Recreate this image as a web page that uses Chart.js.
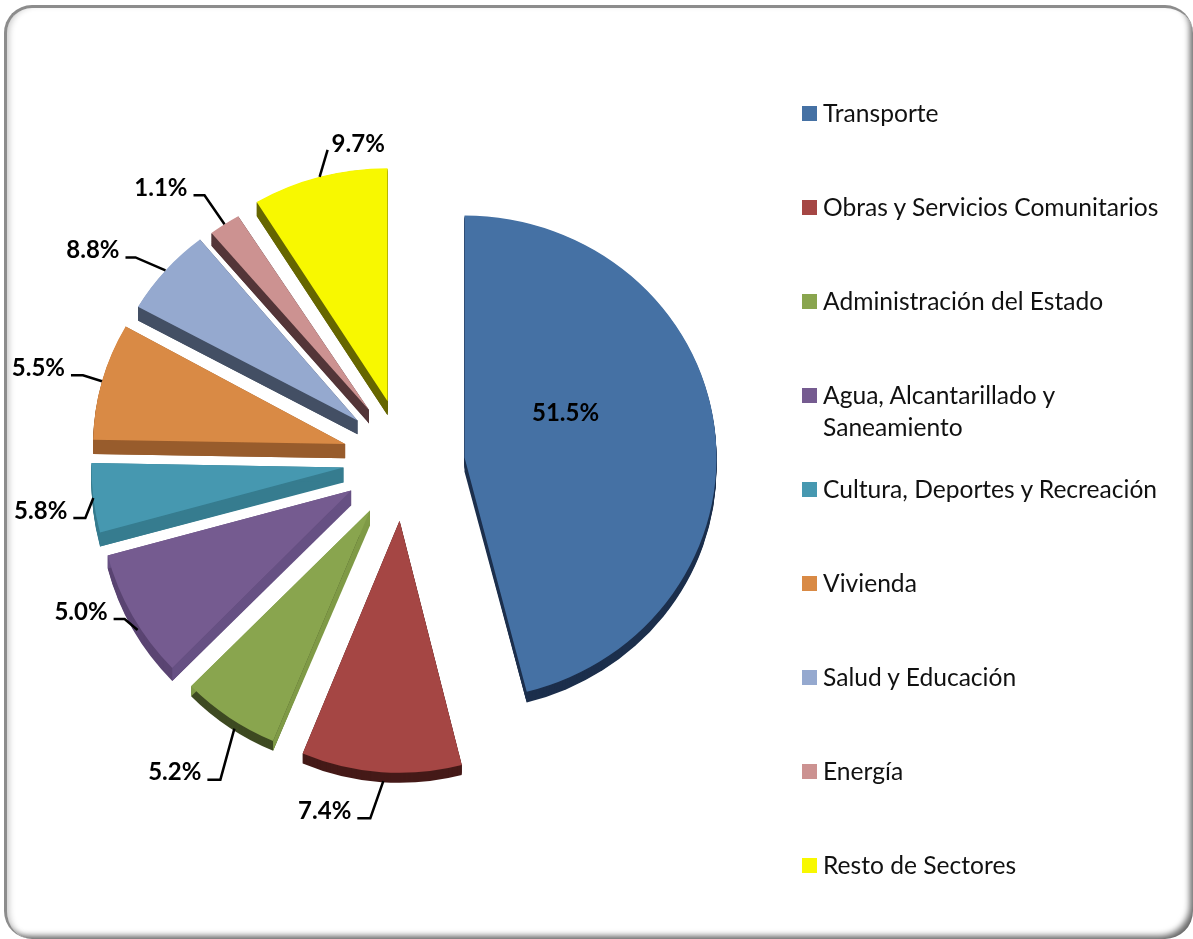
<!DOCTYPE html>
<html lang="es">
<head>
<meta charset="utf-8">
<title>Sectores</title>
<script src="https://cdn.jsdelivr.net/npm/chart.js@4"></script>
<style>
  html, body { margin: 0; background: #fff; overflow: hidden; }
  #page { position: relative; width: 1193px; height: 939px; }
  #frame {
    position: absolute; left: 4px; top: 5px; width: 1189px; height: 934px;
    box-sizing: border-box; border-radius: 28px;
    border-top: 3px solid #8c8c8c; border-left: 3px solid #8c8c8c;
    box-shadow: inset 5px 0 6px -3px rgba(0,0,0,.22), inset -6px -6px 6px -3px rgba(0,0,0,.6);
  }
  canvas { position: absolute; left: 0; top: 0; }
  #legend {
    position: absolute; left: 802px; top: 97px; width: 365px; margin: 0; padding: 0;
    list-style: none; font: 24.6px/32px Lato, sans-serif; color: #111;
  }
  #legend li { position: relative; height: 94px; padding-left: 21px; }
  #legend i { position: absolute; left: 0; top: 9px; width: 15px; height: 15px; }
</style>
</head>
<body>
<div id="page">
  <div id="frame"></div>
  <canvas id="chart" width="1193" height="939"></canvas>
  <ul id="legend"></ul>
</div>
<script>
const categories = [
  'Transporte',
  'Obras y Servicios Comunitarios',
  'Administración del Estado',
  'Agua, Alcantarillado y Saneamiento',
  'Cultura, Deportes y Recreación',
  'Vivienda',
  'Salud y Educación',
  'Energía',
  'Resto de Sectores',
];
// Porcentajes impresos en el gráfico
const printedValues = ['51.5%', '7.4%', '5.2%', '5.0%', '5.8%', '5.5%', '8.8%', '1.1%', '9.7%'];
// Tamaño de cada sector tal como se ve dibujado (no coincide con lo impreso)
const sliceShares = [46.03, 10.25, 6.28, 8.28, 4.44, 7.89, 6.08, 2.06, 8.69];

const topColors = ['#4571a4', '#a54644', '#89a54e', '#755b90', '#4698b0', '#d98a45', '#95a9cf', '#cc9291', '#f8f800'];
const rimColors = ['#1c2f4c', '#451a18', '#3e4a22', '#5a4472', '#367c8f', '#985c2c', '#434f64', '#533538', '#666600'];
const faceColors = ['#1c2f4c', '#451a18', '#7f9a46', '#665083', '#367c8f', '#985c2c', '#434f64', '#533538', '#666600'];

// Perspectiva: grosor, achatamiento y ajuste vertical de cada sector
const sliceDepths = [11, 10, 10, 13, 14, 15, 15, 14, 15];
const sliceSquash = [0.96, 1, 0.99, 1, 1, 0.95, 0.92, 0.9, 0.925];
const sliceShiftY = [5, 0, 0, 0, 0, 0, 0, 0, 0];

// Guías de etiqueta, relativas al punto medio del borde de cada sector
const leaders = [
  { text: [-149, -14], align: 'center' },
  { from: [2, 9], elbow: [-13, 37], tail: -13 },
  { from: [5, 11], elbow: [-14, 51], tail: -13 },
  { from: [5, 14], elbow: [-13, -11], tail: -11 },
  { elbow: [-8, 20], tail: -12 },
  { elbow: [-19, -6], tail: -12 },
  { elbow: [-30, -13], tail: -10 },
  { elbow: [-20, -29], tail: -11 },
  { elbow: [8, -27], tail: 0, text: [12, -33], align: 'left' },
];

const EXPLODE = 61;
const APEX_DEPTH = 15;

function slicePath(ctx, arc) {
  ctx.beginPath();
  ctx.moveTo(arc.x, arc.y);
  ctx.arc(arc.x, arc.y, arc.outerRadius, arc.startAngle, arc.endAngle);
  ctx.closePath();
}

function withSlice(ctx, arc, i, fn) {
  const mid = (arc.startAngle + arc.endAngle) / 2;
  ctx.save();
  ctx.translate(Math.cos(mid) * EXPLODE, Math.sin(mid) * EXPLODE + sliceShiftY[i]);
  ctx.translate(arc.x, arc.y);
  ctx.scale(1, sliceSquash[i]);
  ctx.translate(-arc.x, -arc.y);
  fn();
  ctx.restore();
}

function drawSides(ctx, arc, i) {
  const depth = sliceDepths[i];
  withSlice(ctx, arc, i, () => {
    ctx.fillStyle = rimColors[i];
    for (let k = depth; k > 0; k--) {
      ctx.save();
      ctx.translate(0, k);
      slicePath(ctx, arc);
      ctx.fill();
      ctx.restore();
    }
    ctx.fillStyle = faceColors[i];
    [arc.startAngle, arc.endAngle].forEach(a => {
      const px = arc.x + Math.cos(a) * arc.outerRadius;
      const py = arc.y + Math.sin(a) * arc.outerRadius;
      ctx.beginPath();
      ctx.moveTo(arc.x, arc.y);
      ctx.lineTo(px, py);
      ctx.lineTo(px, py + depth);
      ctx.lineTo(arc.x, arc.y + APEX_DEPTH);
      ctx.closePath();
      ctx.fill();
    });
  });
}

function drawLabel(ctx, arc, i) {
  const mid = (arc.startAngle + arc.endAngle) / 2;
  const l = leaders[i];
  const from = l.from || [0, 0];
  const ax = arc.x + Math.cos(mid) * (EXPLODE + arc.outerRadius) + from[0];
  const ay = arc.y + Math.sin(mid) * (EXPLODE + arc.outerRadius * sliceSquash[i]) + sliceShiftY[i] + from[1];
  let tx, ty, align;
  if (l.elbow) {
    const ex = ax + l.elbow[0];
    const ey = ay + l.elbow[1];
    ctx.beginPath();
    ctx.moveTo(ax, ay);
    ctx.lineTo(ex, ey);
    ctx.lineTo(ex + l.tail, ey);
    ctx.strokeStyle = '#000';
    ctx.lineWidth = 2.5;
    ctx.stroke();
    tx = ex + l.tail - 6;
    ty = ey - 7;
    align = 'right';
  }
  if (l.text) {
    tx = ax + l.text[0];
    ty = ay + l.text[1];
    align = l.align;
  }
  ctx.font = 'bold 24px Lato, sans-serif';
  ctx.fillStyle = '#000';
  ctx.textAlign = align;
  ctx.textBaseline = 'middle';
  ctx.fillText(printedValues[i], tx, ty);
}

const explodedPie = {
  id: 'explodedPie',
  beforeDatasetDraw(chart, args) {
    const ctx = chart.ctx;
    const arcs = args.meta.data;
    arcs.forEach((arc, i) => drawSides(ctx, arc, i));
    arcs.forEach((arc, i) => withSlice(ctx, arc, i, () => arc.draw(ctx)));
    arcs.forEach((arc, i) => drawLabel(ctx, arc, i));
    return false;
  },
};

new Chart(document.getElementById('chart'), {
  type: 'pie',
  data: {
    labels: categories,
    datasets: [{ data: sliceShares, backgroundColor: topColors, borderWidth: 0 }],
  },
  options: {
    responsive: false,
    animation: false,
    layout: { padding: { left: 152, right: 537, top: 208, bottom: 227 } },
    plugins: { legend: { display: false }, tooltip: { enabled: false } },
  },
  plugins: [explodedPie],
});

const legend = document.getElementById('legend');
categories.forEach((name, i) => {
  const li = document.createElement('li');
  const box = document.createElement('i');
  box.style.background = topColors[i];
  li.appendChild(box);
  li.appendChild(document.createTextNode(name));
  legend.appendChild(li);
});
</script>
</body>
</html>
